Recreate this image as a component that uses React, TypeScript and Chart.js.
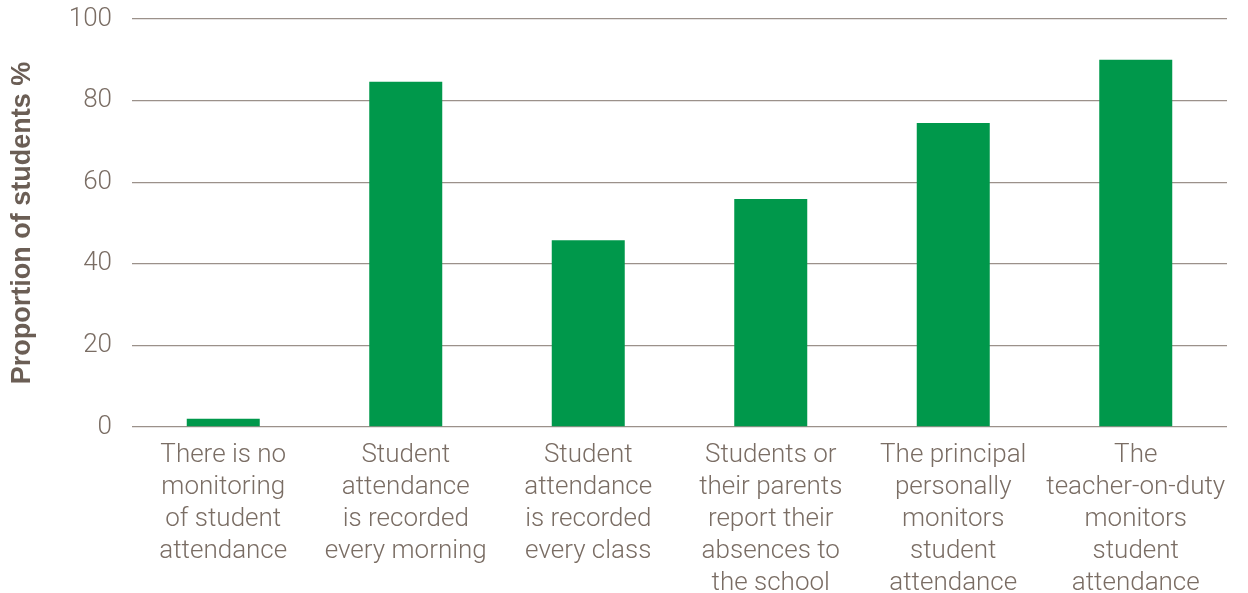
import React, { useEffect, useRef } from "react";
import { Chart, registerables } from "chart.js";

Chart.register(...registerables);

const categories: string[][] = [
  ["There is no", "monitoring", "of student", "attendance"],
  ["Student", "attendance", "is recorded", "every morning"],
  ["Student", "attendance", "is recorded", "every class"],
  ["Students or", "their parents", "report their", "absences to", "the school"],
  ["The principal", "personally", "monitors", "student", "attendance"],
  ["The", "teacher-on-duty", "monitors", "student", "attendance"],
];
const values: number[] = [2, 84.6, 45.8, 55.9, 74.5, 90];
const yTicks: number[] = [0, 20, 40, 60, 80, 100];

export default function App() {
  const ref = useRef<HTMLCanvasElement | null>(null);
  useEffect(() => {
    document.body.style.margin = "0";
    const ctx = ref.current!;
    const chart = new Chart(ctx, {
      type: "bar",
      data: {
        labels: categories,
        datasets: [
          {
            data: values,
            backgroundColor: "#00984b",
            barPercentage: 0.4,
            categoryPercentage: 1,
          },
        ],
      },
      options: {
        animation: false,
        responsive: false,
        maintainAspectRatio: false,
        layout: { padding: { top: 19, right: 21, left: 0, bottom: 0 } },
        plugins: { legend: { display: false }, tooltip: { enabled: false } },
        scales: {
          x: {
            grid: { display: false },
            border: { display: false },
            ticks: {
              color: "#7a6d64",
              font: { family: "Roboto", size: 26, weight: 300, lineHeight: 32 / 26 },
              padding: 4,
              maxRotation: 0,
              autoSkip: false,
            },
            afterFit: (s: any) => {
              s.height = 166;
              s.paddingLeft = 0;
              s.paddingRight = 0;
            },
          },
          y: {
            min: 0,
            max: 100,
            afterBuildTicks: (s: any) => {
              s.ticks = yTicks.map((v) => ({ value: v }));
            },
            grid: { color: "#9b918a", lineWidth: 1.3, drawTicks: false },
            border: { display: false },
            ticks: {
              color: "#7a6d64",
              font: { family: "Roboto", size: 26, weight: 300 },
              padding: 20,
            },
            title: {
              display: true,
              text: "Proportion of students %",
              color: "#6b5e55",
              font: { family: "Liberation Sans", size: 27, weight: "bold" },
              padding: { top: 6, bottom: 0 },
            },
            afterFit: (s: any) => {
              s.width = 132;
              s.paddingTop = 0;
              s.paddingBottom = 0;
            },
          },
        },
      },
    });
    return () => chart.destroy();
  }, []);
  return <canvas ref={ref} width={1248} height={593} style={{ display: "block" }} />;
}
